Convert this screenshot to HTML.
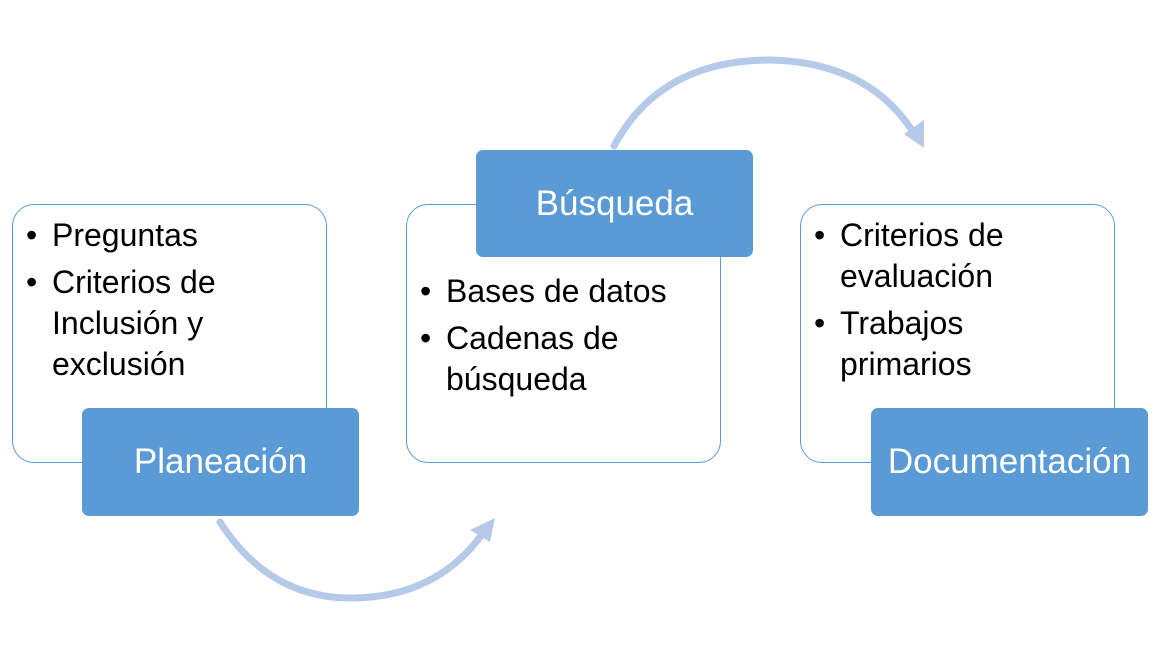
<!DOCTYPE html>
<html><head><meta charset="utf-8"><style>
body{margin:0;width:1163px;height:667px;background:#fff;position:relative;overflow:hidden;font-family:"Liberation Sans",sans-serif;}
.box{position:absolute;border:1.5px solid #5B9BD5;border-radius:22px;background:#fff;box-sizing:border-box;}
.lab{position:absolute;background:#5B9BD5;border-radius:7px;color:#fff;font-size:35px;display:flex;align-items:center;justify-content:center;box-sizing:border-box;}
.txt{position:absolute;font-size:32px;color:#000;line-height:41px;}
.li{position:relative;padding-left:26px;}
.li:before{content:"•";position:absolute;left:0;}
.gap{margin-top:6px;}
</style></head><body>
<svg width="1163" height="667" style="position:absolute;left:0;top:0">
<g fill="none" stroke="#B4CAE8" stroke-width="7" stroke-linecap="round">
<path d="M220 522 Q 270 600 355 598 Q 440 596 485 530"/>
<path d="M614 146 Q 660 60 770 60 Q 870 62 915 135"/>
</g>
<polygon points="495,518 470,530 490,542" fill="#B4CAE8"/>
<polygon points="924,148 924,120 904,134" fill="#B4CAE8"/>
</svg>
<div class="box" style="left:12px;top:204px;width:315px;height:259px"></div>
<div class="box" style="left:406px;top:204px;width:315px;height:259px"></div>
<div class="box" style="left:800px;top:204px;width:315px;height:259px"></div>
<div class="txt" style="left:26px;top:215px">
<div class="li">Preguntas</div>
<div class="li gap">Criterios de<br>Inclusión y<br>exclusión</div>
</div>
<div class="txt" style="left:420px;top:271px">
<div class="li">Bases de datos</div>
<div class="li gap">Cadenas de<br>búsqueda</div>
</div>
<div class="txt" style="left:814px;top:215px">
<div class="li">Criterios de<br>evaluación</div>
<div class="li gap">Trabajos<br>primarios</div>
</div>
<div class="lab" style="left:82px;top:408px;width:277px;height:108px">Planeación</div>
<div class="lab" style="left:476px;top:150px;width:277px;height:107px">Búsqueda</div>
<div class="lab" style="left:871px;top:408px;width:277px;height:108px">Documentación</div>
</body></html>
